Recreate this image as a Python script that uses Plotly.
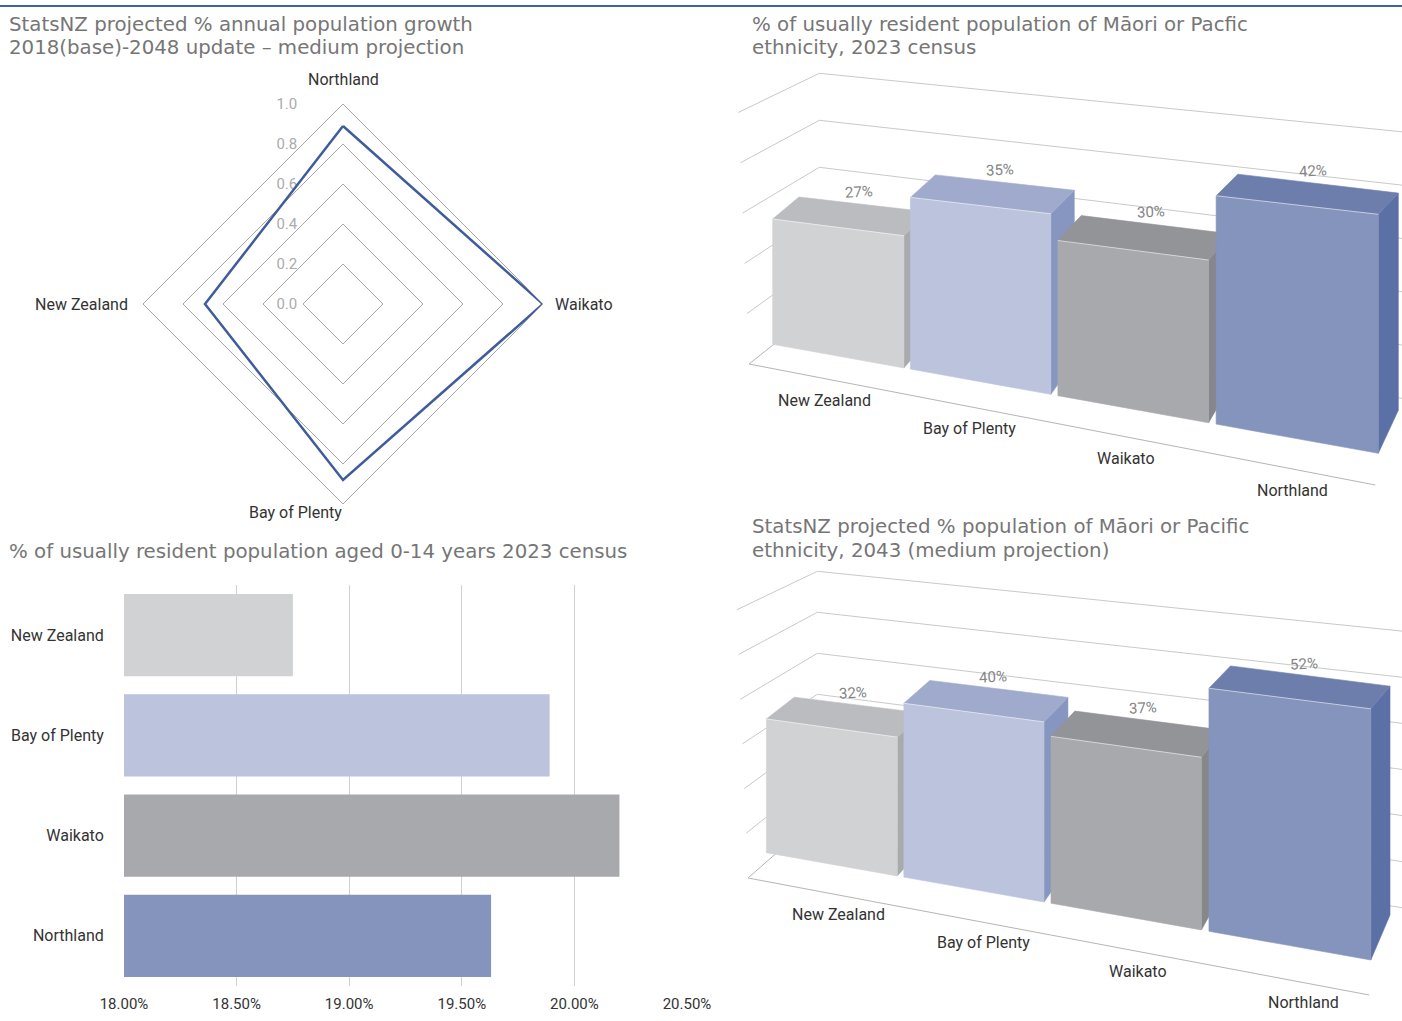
import plotly.graph_objects as go

# ---------------- data ----------------
radar_regions = ["Northland", "Waikato", "Bay of Plenty", "New Zealand"]
radar_growth = [0.89, 1.0, 0.88, 0.69]          # projected % annual growth
radar_ticks = [0.0, 0.2, 0.4, 0.6, 0.8, 1.0]

regions = ["New Zealand", "Bay of Plenty", "Waikato", "Northland"]
maori_pacific_2023 = [27, 35, 30, 42]            # % of usually resident pop.
maori_pacific_2043 = [32, 40, 37, 52]            # projected %, medium
aged_0_14_2023 = [18.75, 19.89, 20.20, 19.63]    # % aged 0-14
hbar_ticks = [18.0, 18.5, 19.0, 19.5, 20.0, 20.5]

# ---------------- styling ----------------
W, H = 1402, 1021
FONT = "Roboto"
TITLE_FONT = "DejaVu Sans"
TITLE_COLOR = "#767676"
TEXT_COLOR = "#333333"
GRID = "#c9c9c9"

front_col = {"New Zealand": "#d1d2d4", "Bay of Plenty": "#bbc3dd",
             "Waikato": "#a8a9ac", "Northland": "#8594bd"}
top_col = {"New Zealand": "#bbbcbf", "Bay of Plenty": "#a0aacd",
           "Waikato": "#939498", "Northland": "#6e7eac"}
side_col = {"New Zealand": "#a9aaad", "Bay of Plenty": "#8796c0",
            "Waikato": "#86878b", "Northland": "#5b70a5"}


def px(x):
    return x / W


def py(y):
    return 1 - y / H


fig = go.Figure()
annotations = []
shapes = []

# ---------------- titles ----------------
titles = [
    (7, 24, "StatsNZ projected % annual population growth"),
    (7, 48, "2018(base)-2048 update \u2013 medium projection"),
    (750, 24, "% of usually resident population of M\u0101ori or Pacfic"),
    (750, 48, "ethnicity, 2023 census"),
    (7, 551, "% of usually resident population aged 0-14 years 2023 census"),
    (750, 526, "StatsNZ projected % population of M\u0101ori or Pacific"),
    (750, 550, "ethnicity, 2043 (medium projection)"),
]
for x, y, t in titles:
    annotations.append(dict(text=t, x=px(x), y=py(y), xref="paper", yref="paper",
                            xanchor="left", yanchor="middle", showarrow=False,
                            font=dict(family=TITLE_FONT, size=19.8, color=TITLE_COLOR)))

shapes.append(dict(type="line", xref="paper", yref="paper", x0=0, x1=1,
                   y0=py(6), y1=py(6), line=dict(color="#3d63a0", width=2)))

# ---------------- radar chart ----------------
cx, cy, R = 343, 304, 200
fig.add_trace(go.Scatterpolar(
    r=radar_growth + radar_growth[:1], theta=radar_regions + radar_regions[:1],
    mode="lines", line=dict(color="#3f5d9b", width=2.5), showlegend=False,
    hoverinfo="skip"))

radar_label_pos = {
    "Northland": (cx, cy - R - 24, "center"),
    "Waikato": (cx + R + 10, cy + 1, "left"),
    "Bay of Plenty": (cx + 1, cy + R + 8, "right"),
    "New Zealand": (cx - R - 13, cy + 1, "right"),
}
for name in radar_regions:
    x, y, anchor = radar_label_pos[name]
    annotations.append(dict(text=name, x=px(x), y=py(y), xref="paper", yref="paper",
                            xanchor=anchor, yanchor="middle", showarrow=False,
                            font=dict(family=FONT, size=16, color=TEXT_COLOR)))

# ---------------- horizontal bar chart ----------------
fig.add_trace(go.Bar(
    x=aged_0_14_2023, y=regions, orientation="h",
    marker=dict(color=[front_col[r] for r in regions], line=dict(width=0)),
    xaxis="x2", yaxis="y2", showlegend=False, hoverinfo="skip"))


# ---------------- 3D column charts ----------------
def add_polyline(pts_list, color, width):
    xs, ys = [], []
    for pts in pts_list:
        for p in pts:
            xs.append(p[0]); ys.append(p[1])
        xs.append(None); ys.append(None)
    fig.add_trace(go.Scatter(x=xs, y=ys, mode="lines", xaxis="x3", yaxis="y3",
                             line=dict(color=color, width=width),
                             showlegend=False, hoverinfo="skip"))


def add_face(pts, color):
    xs = [p[0] for p in pts] + [pts[0][0]]
    ys = [p[1] for p in pts] + [pts[0][1]]
    fig.add_trace(go.Scatter(x=xs, y=ys, mode="lines", fill="toself",
                             fillcolor=color, line=dict(color=color, width=0.6),
                             xaxis="x3", yaxis="y3", showlegend=False,
                             hoverinfo="skip"))


def persp(u, m=1.15):
    """Foreshortened fraction along the category direction."""
    return u / (u + m * (1 - u))


def column_chart(cats, values, zmax, frame, bars, label_off, value_off):
    n = len(cats)
    FL, FR, BL, BR = frame["FL"], frame["FR"], frame["BL"], frame["BR"]

    # wall gridlines: back wall and left side wall
    lines = []
    for z in range(0, zmax + 1, 10):
        back_l = (BL[0], BL[1] - frame["v_bl"] * z)
        back_r = (BR[0], BR[1] - frame["v_br"] * z)
        lines.append([back_l, back_r])
        if z > 0:
            front = (FL[0] - frame["lean"] * z, FL[1] - frame["v_f"] * z)
            lines.append([front, back_l])
    add_polyline(lines, GRID, 1)
    add_polyline([[BL, FL, FR]], "#b5b5b5", 1)

    # column geometry: category X, normalised depth s (0 front, 1 back), value Z
    g = bars["gap"]
    P0, P4, DL, DR = bars["P0"], bars["P4"], bars["DL"], bars["DR"]

    def M(X, s, Z):
        u = (X - g) / (n - 2 * g)
        f = persp(u)
        bx = P0[0] + f * (P4[0] - P0[0])
        by = P0[1] + f * (P4[1] - P0[1])
        dx = DL[0] + f * (DR[0] - DL[0])
        dy = DL[1] + f * (DR[1] - DL[1])
        vf = bars["v0"] + u * (bars["v4"] - bars["v0"])
        r = bars["rL"] + f * (bars["rR"] - bars["rL"])
        v = vf * (1 + (r - 1) * s)
        return (bx + s * dx, by + s * dy - Z * v)

    for i, (c, v) in enumerate(zip(cats, values)):
        x0, x1 = i + g, i + 1 - g
        add_face([M(x1, 0, 0), M(x1, 1, 0), M(x1, 1, v), M(x1, 0, v)], side_col[c])
        add_face([M(x0, 0, v), M(x1, 0, v), M(x1, 1, v), M(x0, 1, v)], top_col[c])
        add_face([M(x0, 0, 0), M(x1, 0, 0), M(x1, 0, v), M(x0, 0, v)], front_col[c])
        add_polyline([[M(x0, 0, v), M(x1, 0, v)]], "rgba(255,255,255,0.5)", 1)

        lx, ly = M(i + 0.5, 1, v)
        annotations.append(dict(text=f"{v}%", x=lx + value_off[0], y=ly + value_off[1],
                                xref="x3", yref="y3", showarrow=False, textangle=-3,
                                font=dict(family=FONT, size=15, color="#858585")))

        f = persp((i + 0.5) / n)
        cxl = FL[0] + f * (FR[0] - FL[0]) + label_off[0]
        cyl = FL[1] + f * (FR[1] - FL[1]) + label_off[1]
        annotations.append(dict(text=c, x=cxl, y=cyl, xref="x3", yref="y3",
                                showarrow=False,
                                font=dict(family=FONT, size=16, color=TEXT_COLOR)))


frame_2023 = dict(FL=(749, 364), FR=(1375.3, 485), BL=(819.3, 308.3), BR=(1402, 398.3),
                  v_bl=4.70, v_br=5.33, v_f=5.03, lean=0.214)
bars_2023 = dict(P0=(772.7, 344.3), P4=(1378.3, 453.3), DL=(26.3, -24.5), DR=(20.0, -43.0),
                 v0=4.64, v4=5.69, rL=0.98, rR=0.909, gap=0.023)

frame_2043 = dict(FL=(748, 878), FR=(1369.3, 995), BL=(817.3, 817.3), BR=(1402, 907.7),
                  v_bl=4.10, v_br=4.61, v_f=4.47, lean=0.188)
bars_2043 = dict(P0=(766.4, 852.7), P4=(1370.8, 960.0), DL=(27.9, -24.4), DR=(19.2, -45.0),
                 v0=4.18, v4=4.83, rL=0.98, rR=0.911, gap=0.023)

column_chart(regions, maori_pacific_2023, 50, frame_2023, bars_2023, (6, 23), (-4, -12))
column_chart(regions, maori_pacific_2043, 60, frame_2043, bars_2043, (22, 24), (-5, -12))

# ---------------- layout ----------------
fig.update_layout(
    width=W, height=H,
    margin=dict(l=0, r=0, t=0, b=0, pad=0, autoexpand=False),
    paper_bgcolor="white", plot_bgcolor="rgba(0,0,0,0)",
    font=dict(family=FONT, color=TEXT_COLOR),
    showlegend=False,
    polar=dict(
        domain=dict(x=[px(cx - R), px(cx + R)], y=[py(cy + R), py(cy - R)]),
        gridshape="linear", bgcolor="rgba(0,0,0,0)",
        radialaxis=dict(range=[0, 1], tickvals=radar_ticks,
                        ticktext=[f"{t:.1f}" for t in radar_ticks],
                        angle=90, side="counterclockwise", showline=False,
                        gridcolor="#a8a8a8", gridwidth=1, ticks="outside",
                        ticklen=40, tickcolor="rgba(0,0,0,0)", layer="below traces",
                        tickangle=90,
                        tickfont=dict(family=FONT, size=15, color="#ababab")),
        angularaxis=dict(rotation=90, direction="clockwise", showgrid=False,
                         showline=True, linecolor="#a8a8a8", linewidth=1,
                         showticklabels=False, ticks="", categoryorder="array",
                         categoryarray=radar_regions),
    ),
    xaxis2=dict(domain=[px(124), px(687)], range=[18, 20.5], tickvals=hbar_ticks,
                ticktext=[f"{t:.2f}%" for t in hbar_ticks], showgrid=True,
                gridcolor="#d0d0d0", gridwidth=1, zeroline=False, showline=False,
                ticks="outside", ticklen=4, tickcolor="rgba(0,0,0,0)",
                tickfont=dict(family=FONT, size=15, color=TEXT_COLOR),
                anchor="y2", fixedrange=True, automargin=False),
    yaxis2=dict(domain=[py(986), py(585)], autorange="reversed", showgrid=False,
                zeroline=False, showline=False, ticks="outside", ticklen=16,
                tickcolor="rgba(0,0,0,0)", anchor="x2", fixedrange=True,
                automargin=False,
                tickfont=dict(family=FONT, size=16, color=TEXT_COLOR)),
    bargap=0.18,
    xaxis3=dict(domain=[0, 1], range=[0, W], visible=False, fixedrange=True,
                anchor="y3", automargin=False),
    yaxis3=dict(domain=[0, 1], range=[H, 0], visible=False, fixedrange=True,
                anchor="x3", automargin=False),
    annotations=annotations, shapes=shapes,
)

fig.write_html("out.html")
